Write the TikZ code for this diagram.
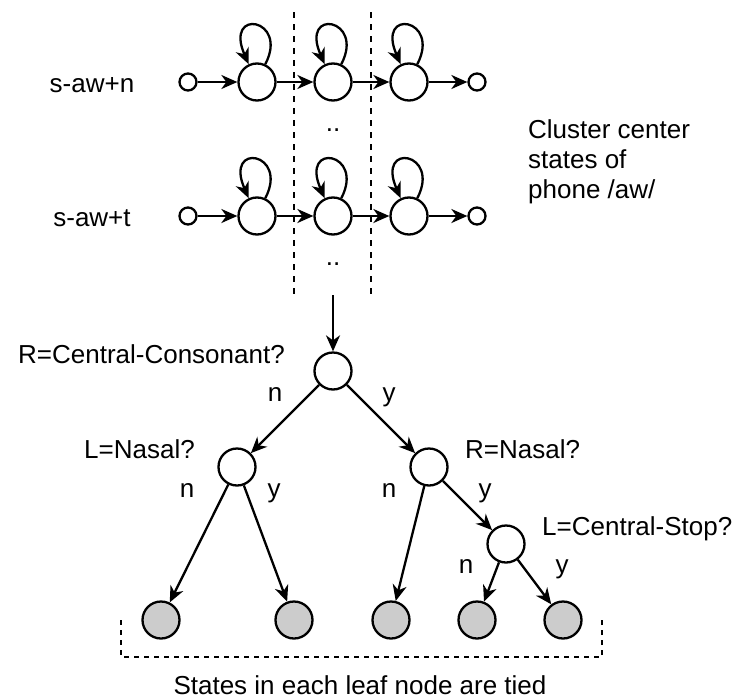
\documentclass[tikz,border=0pt]{standalone}
\usepackage{fontspec}
\setmainfont{Liberation Sans}
\usetikzlibrary{arrows.meta}
\definecolor{leafgray}{HTML}{CCCCCC}

\begin{document}
\begin{tikzpicture}[x=1pt,y=-1pt,
  every node/.style={font=\fontsize{26}{30}\selectfont},
  state/.style={circle, draw, line width=2.3pt, minimum size=37pt, inner sep=0pt, fill=white},
  endstate/.style={circle, draw, line width=2.3pt, minimum size=17pt, inner sep=0pt, fill=white},
  leaf/.style={state, fill=leafgray},
  arr/.style={line width=2.3pt, -{Stealth[length=16pt,width=14pt,inset=5pt]}},
  lbl/.style={inner sep=0pt, anchor=base},
  sep/.style={line width=2.2pt, dash pattern=on 6pt off 6pt}
]
\useasboundingbox (0,0) rectangle (739,699);

% dashed separators around the middle state column
\coordinate (sepAtop) at (294,12);
\coordinate (sepAbot) at (294,295);
\coordinate (sepBtop) at (371,12);
\coordinate (sepBbot) at (371,295);
\draw[sep] (sepAtop) -- (sepAbot);
\draw[sep] (sepBtop) -- (sepBbot);

% two triphone HMMs
\foreach \row/\yy/\name in {n/82/s-aw+n, t/216/s-aw+t}{
  \node[lbl] (lab\row) at (92,\yy+10) {\name};
  \node[endstate] (in\row) at (188,\yy) {};
  \node[state] (a\row) at (257,\yy) {};
  \node[state] (b\row) at (333,\yy) {};
  \node[state] (c\row) at (409,\yy) {};
  \node[endstate] (out\row) at (477,\yy) {};
  \draw[arr] (in\row) -- (a\row);
  \draw[arr] (a\row) -- (b\row);
  \draw[arr] (b\row) -- (c\row);
  \draw[arr] (c\row) -- (out\row);
  \foreach \s in {a,b,c}{
    \draw[arr] (\s\row.65) .. controls +(24,-46) and +(-25,-57) .. (\s\row.115);
  }
}

% ellipsis between and below the models
\node[lbl] (dotsA) at (333,131) {..};
\node[lbl] (dotsB) at (333,265) {..};

% side caption
\node[lbl, anchor=base west] (capA) at (528,138) {Cluster center};
\node[lbl, anchor=base west] (capB) at (528,168) {states of};
\node[lbl, anchor=base west] (capC) at (528,198) {phone /aw/};

% decision tree
\coordinate (drop) at (333,295);
\node[state] (root) at (333,371) {};
\node[state] (ql) at (237,467) {};
\node[state] (qr) at (429,467) {};
\node[state] (qs) at (506,544) {};
\node[leaf] (l1) at (161,620) {};
\node[leaf] (l2) at (294,620) {};
\node[leaf] (l3) at (391,620) {};
\node[leaf] (l4) at (477,620) {};
\node[leaf] (l5) at (563,620) {};

\draw[arr] (drop) -- (root);
\draw[arr] (root) -- (ql);
\draw[arr] (root) -- (qr);
\draw[arr] (ql) -- (l1);
\draw[arr] (ql) -- (l2);
\draw[arr] (qr) -- (l3);
\draw[arr] (qr) -- (qs);
\draw[arr] (qs) -- (l4);
\draw[arr] (qs) -- (l5);

% questions
\node[lbl, anchor=base east] (qroot) at (285,363) {R=Central-Consonant?};
\node[lbl, anchor=base east] (qlt) at (195,458) {L=Nasal?};
\node[lbl, anchor=base west] (qrt) at (465,458) {R=Nasal?};
\node[lbl, anchor=base west] (qst) at (542,535) {L=Central-Stop?};

% answers
\node[lbl] (rn) at (275,401) {n};
\node[lbl] (ry) at (389,401) {y};
\node[lbl] (ln) at (187,497) {n};
\node[lbl] (ly) at (274,497) {y};
\node[lbl] (qrn) at (389,497) {n};
\node[lbl] (qry) at (485,497) {y};
\node[lbl] (sn) at (466,573) {n};
\node[lbl] (sy) at (562,573) {y};

% tied leaves
\coordinate (brA) at (121,620);
\coordinate (brB) at (121,657);
\coordinate (brC) at (602,657);
\coordinate (brD) at (602,620);
\draw[sep, dash pattern=on 5pt off 5pt] (brA) -- (brB) -- (brC) -- (brD);
\node[lbl] (tied) at (360,694) {States in each leaf node are tied};
\end{tikzpicture}
\end{document}
